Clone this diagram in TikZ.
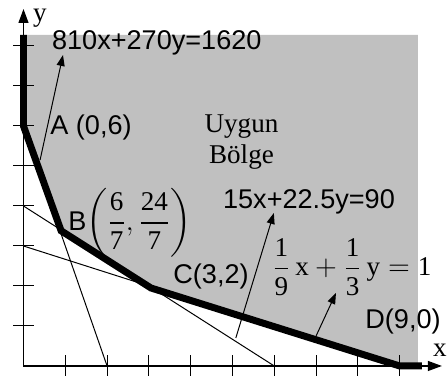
\documentclass[tikz,border=0pt]{standalone}
\usepackage{amsmath}
\usepackage{fontspec}
\setmainfont{Liberation Serif}
\setsansfont{Liberation Sans}
\setmathrm{Liberation Serif}
\usetikzlibrary{arrows.meta}
\definecolor{region}{RGB}{192,192,192}
\newcommand{\lblsize}{\fontsize{13.6}{15.5}\selectfont}
\tikzset{
  bound/.style ={draw=black, line width=3.5pt, line join=miter},
  cons/.style  ={draw=black, line width=0.5pt},
  axis/.style  ={-{Triangle[length=7pt,width=5pt]}, draw=black, line width=0.6pt},
  grad/.style  ={-{Triangle[length=5.5pt,width=4pt]}, draw=black, line width=0.5pt},
  slbl/.style  ={font=\sffamily\lblsize, inner sep=0pt},
  rlbl/.style  ={font=\rmfamily\lblsize, inner sep=0pt, align=center},
}

\begin{document}
\begin{tikzpicture}[x=20.9bp,y=20bp]
\useasboundingbox (-0.562,-0.325) rectangle (10.156,9.15);
% corner points
\coordinate (O) at (0,0);
\coordinate (top) at (0,8.275);
\coordinate (A) at (0,6);
\coordinate (B) at (0.9,3.38);
\coordinate (C) at (3.05,1.95);
\coordinate (D) at (9,0);
\coordinate (Dend) at (9.53,0);
% feasible region
\fill[region] (top) -- (9.438,8.275) -- (9.438,0) -- (D) -- (C) -- (B) -- (A) -- cycle;
% constraint lines
\coordinate (x2) at (2,0);
\coordinate (y4) at (0,4);
\coordinate (x6) at (6,0);
\coordinate (y3) at (0,3);
\draw[cons] (A) -- (x2);
\draw[cons] (y4) -- (x6);
\draw[cons] (y3) -- (D);
% axes
\coordinate (xtip) at (10.01,0);
\coordinate (ytip) at (0,8.925);
\draw[axis] (O) -- (xtip);
\draw[axis] (O) -- (ytip);
\foreach \i in {1,...,9} \draw[cons] (\i,-0.25) -- (\i,0.275);
\foreach \j in {1,...,8} \draw[cons] (-0.25,\j) -- (0.25,\j);
% boundary
\draw[bound] (top) -- (A) -- (B) -- (C) -- (D) -- (Dend);
% arrows to the equations
\coordinate (g1s) at (0.397,5.15);
\coordinate (g1e) at (0.945,7.775);
\coordinate (g2s) at (5.08,0.7);
\coordinate (g2e) at (5.99,3.825);
\coordinate (g3s) at (7.0,0.75);
\coordinate (g3e) at (7.476,1.825);
\draw[grad] (g1s) -- (g1e);
\draw[grad] (g2s) -- (g2e);
\draw[grad] (g3s) -- (g3e);
% labels
\node[rlbl] (ylab) at (0.395,8.7) {y};
\node[rlbl] (xlab) at (9.96,0.4) {x};
\node[slbl] (eqone) at (3.19,8.075) {810x+270y=1620};
\node[slbl,anchor=west] (Alab) at (0.634,5.975) {A (0,6)};
\node[rlbl] (reg) at (5.215,5.6) {Uygun\\Bölge};
\node[slbl,anchor=west] (Blab) at (1.065,3.575) {B$\displaystyle\left(\frac{\mathrm{6}}{\mathrm{7}},\frac{\mathrm{24}}{\mathrm{7}}\right)$};
\node[slbl] (eqtwo) at (6.83,4.1) {15x+22.5y=90};
\node[slbl,anchor=west] (Clab) at (3.577,2.225) {C(3,2)};
\node[rlbl,anchor=east] (eqthree) at (9.77,2.475) {$\displaystyle\frac{\mathrm{1}}{\mathrm{9}}\,\mathrm{x} + \frac{\mathrm{1}}{\mathrm{3}}\,\mathrm{y} = \mathrm{1}$};
\node[slbl] (Dlab) at (9.08,1.1) {D(9,0)};
\end{tikzpicture}
\end{document}
